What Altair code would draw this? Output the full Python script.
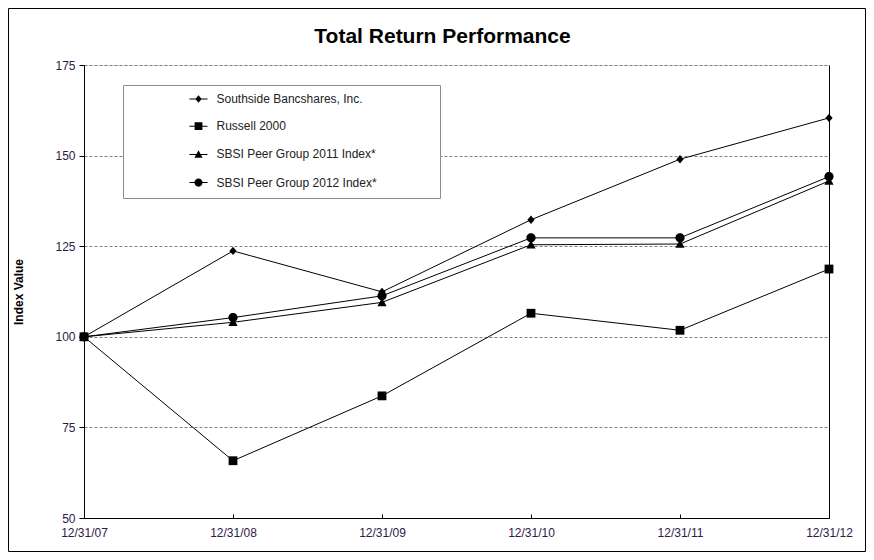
import altair as alt
import pandas as pd

dates = ["12/31/07", "12/31/08", "12/31/09", "12/31/10", "12/31/11", "12/31/12"]
series_names = [
    "Southside Bancshares, Inc.",
    "Russell 2000",
    "SBSI Peer Group 2011 Index*",
    "SBSI Peer Group 2012 Index*",
]
southside = [100, 123.7, 112.4, 132.3, 149.0, 160.4]
russell = [100, 65.8, 83.7, 106.5, 101.8, 118.7]
peer2011 = [100, 104.0, 109.5, 125.4, 125.6, 143.0]
peer2012 = [100, 105.3, 111.3, 127.3, 127.3, 144.2]
y_ticks = [50, 75, 100, 125, 150, 175]

rows = []
for name, vals in zip(series_names, [southside, russell, peer2011, peer2012]):
    for d, v in zip(dates, vals):
        rows.append({"date": d, "series": name, "value": v})
df = pd.DataFrame(rows)

FONT = "Liberation Sans"
LABEL = "#2e1a47"

# marker shapes (all drawn clockwise)
markers = [
    "M0,-1.05L0.9,0L0,1.05L-0.9,0Z",
    "M-1.1,-1.1H1.1V1.1H-1.1Z",
    "M0,-1.15L1.15,0.95L-1.15,0.95Z",
    "M-1.15,0A1.15,1.15,0,1,1,1.15,0A1.15,1.15,0,1,1,-1.15,0Z",
]
# legend symbols: the same markers with a thin filled bar (line) through them
STUB = "M-2.55,-0.14H2.55V0.14H-2.55Z"
legend_shapes = [STUB + m for m in markers]

x_enc = alt.X(
    "date:O",
    sort=dates,
    scale=alt.Scale(type="point", padding=0),
    axis=alt.Axis(
        title=None,
        labelAngle=0,
        labelFont=FONT,
        labelFontSize=12,
        labelColor=LABEL,
        domainColor="black",
        tickColor="black",
        tickSize={"expr": "-4"},
        labelPadding=13,
    ),
)

y_scale = alt.Scale(domain=[50, 175], nice=False, zero=False)

y_left = alt.Y(
    "value:Q",
    scale=y_scale,
    axis=alt.Axis(
        values=y_ticks,
        title="Index Value",
        titleFont=FONT,
        titleFontSize=12,
        titleFontWeight="bold",
        titleColor="black",
        titleAngle=-90,
        titleX=-66,
        titleY=226.5,
        titleAlign="center",
        titleBaseline="middle",
        labelFont=FONT,
        labelFontSize=12,
        labelColor=LABEL,
        labelPadding=4,
        tickSize=5,
        tickColor="black",
        domainColor="black",
        grid=True,
        gridColor="#808080",
        gridDash=[3, 2],
        gridWidth=1,
    ),
)

y_right = alt.Y(
    "value:Q",
    scale=y_scale,
    axis=alt.Axis(
        orient="right",
        title=None,
        labels=False,
        ticks=False,
        grid=False,
        domainColor="black",
    ),
)

y_none = alt.Y("value:Q", scale=y_scale, axis=None)

frame = alt.Chart(pd.DataFrame({"f": [0]})).mark_rect(
    filled=False, stroke="black", strokeWidth=1
).encode(
    x=alt.value(-75.5), x2=alt.value(781.5), y=alt.value(-56.5), y2=alt.value(486.5)
)

lines = alt.Chart(df).mark_line(color="black", strokeWidth=1).encode(
    x=x_enc, y=y_left, detail="series:N"
)

points = alt.Chart(df).mark_point(
    filled=True, size=64, fill="black", opacity=1
).encode(
    x=x_enc,
    y=y_right,
    shape=alt.Shape(
        "series:N",
        sort=series_names,
        scale=alt.Scale(domain=series_names, range=markers),
        legend=None,
    ),
)

# invisible layer that only supplies the legend (line + marker symbols)
legend_layer = alt.Chart(df).mark_point(
    filled=True, size=64, fill="black", opacity=0
).encode(
    x=x_enc,
    y=y_none,
    shape=alt.Shape(
        "series:N",
        sort=series_names,
        scale=alt.Scale(domain=series_names, range=legend_shapes),
        legend=alt.Legend(
            title=".",
            titleOrient="right",
            titleColor="white",
            titleFontSize=10,
            titlePadding=52,
            orient="none",
            legendX=39,
            legendY=20,
            fillColor="white",
            strokeColor="#8c8c8c",
            padding=8,
            symbolSize=50,
            symbolOpacity=1,
            symbolFillColor="black",
            symbolOffset=61.5,
            labelOffset=12,
            rowPadding=13.2,
            labelFont=FONT,
            labelFontSize=12,
            labelLimit=500,
            labelColor="#222222",
        ),
    ),
)

chart = (
    alt.layer(frame, lines, points, legend_layer)
    .resolve_axis(y="independent")
    .resolve_scale(shape="independent")
    .properties(
        width=745,
        height=453,
        padding={"left": 76, "top": 57, "right": 37, "bottom": 34},
        autosize=alt.AutoSizeParams(type="none"),
        title=alt.TitleParams(
            text="Total Return Performance",
            font=FONT,
            fontSize=21,
            fontWeight="bold",
            color="black",
            anchor="middle",
            baseline="alphabetic",
            dx=-14,
            offset=-56,
        ),
    )
    .configure_view(stroke=None)
    .configure(background="white")
)

chart.save("out.html", embed_options={"renderer": "svg", "actions": False})
